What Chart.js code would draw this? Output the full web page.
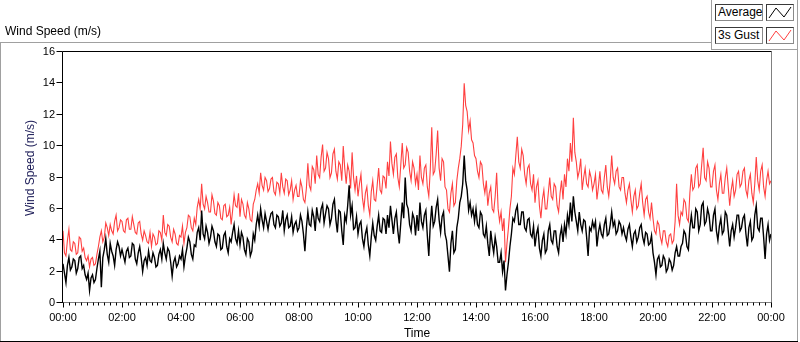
<!DOCTYPE html>
<html><head><meta charset="utf-8">
<script src="https://cdn.jsdelivr.net/npm/chart.js@4"></script>
<style>
html,body{margin:0;padding:0;background:#fff;}
#wrap{position:relative;width:800px;height:342px;font-family:"Liberation Sans",Arial,sans-serif;overflow:hidden;}
canvas{position:absolute;left:0;top:0;}
.t{position:absolute;font-size:12px;color:#000;white-space:nowrap;line-height:14px;}
.lb{position:absolute;box-sizing:border-box;border:1px solid;border-color:#3a3a3a #8a8a8a #8a8a8a #3a3a3a;background:#fff;font-size:12px;line-height:14px;padding-left:2px;white-space:nowrap;}
.ic{position:absolute;box-sizing:border-box;border:1px solid;border-color:#3a3a3a #8a8a8a #8a8a8a #3a3a3a;background:#fff;}
#ytitle{position:absolute;left:-20px;top:161px;width:100px;height:14px;text-align:center;transform:rotate(-90deg);color:#20205a;font-size:12px;line-height:14px;white-space:nowrap;}
</style></head><body>
<div id="wrap">
<canvas id="c" width="800" height="342"></canvas>
<div class="t" style="left:5px;top:24px;">Wind Speed (m/s)</div>
<div id="ytitle">Wind Speed (m/s)</div>
<div class="lb" style="left:715px;top:4px;width:48px;height:17px;">Average</div>
<div class="ic" style="left:766px;top:4px;width:28px;height:17px;"><svg width="26" height="15" style="display:block"><polyline points="2,13 9,3 17,12 24,2" fill="none" stroke="#000" stroke-width="1"/></svg></div>
<div class="lb" style="left:715px;top:27px;width:48px;height:17px;">3s Gust</div>
<div class="ic" style="left:766px;top:27px;width:28px;height:17px;"><svg width="26" height="15" style="display:block"><polyline points="2,13 9,3 17,12 24,2" fill="none" stroke="#ff4040" stroke-width="1"/></svg></div>
</div>
<script>
// Axis tick labels
const xTickLabels = ['00:00','02:00','04:00','06:00','08:00','10:00','12:00','14:00','16:00','18:00','20:00','22:00','00:00'];
const yTicks = [0,2,4,6,8,10,12,14,16];

// Average wind speed (m/s), one sample every 3 minutes, one row per hour
const average = [
 2.5,1.9,1.3,2.4,2.9,2.1,2.3,2.8,2.7,1.9, 2.2,2.9,3.0,2.2,2.4,1.8,1.5,1.9,0.8,1.6,
 1.8,1.3,1.5,2.2,2.8,3.3,1.0,2.9,3.4,4.1, 3.1,2.6,3.8,3.3,3.0,2.4,3.4,3.9,3.6,3.0,
 3.4,3.0,2.6,3.3,3.5,2.9,3.0,3.8,3.7,2.8, 2.5,3.2,3.6,2.9,2.0,2.7,2.9,2.4,3.3,2.7,
 2.6,3.2,2.9,2.3,2.4,3.1,3.4,2.8,3.8,3.2, 2.8,3.5,3.3,2.6,1.7,2.6,2.9,2.3,2.5,3.0,
 2.8,3.4,2.3,3.0,3.5,4.2,3.9,3.1,2.8,3.7, 3.6,4.5,4.8,4.0,5.9,4.4,4.1,4.9,4.5,3.8,
 4.2,4.9,4.6,3.9,3.6,4.4,4.3,3.4,3.5,4.3, 4.5,3.6,3.2,4.1,3.9,4.5,5.0,4.1,3.8,4.6,
 3.7,4.5,4.2,3.4,3.1,4.1,3.9,3.0,3.3,4.4, 4.0,5.0,5.6,4.9,6.0,5.3,4.8,5.7,5.2,4.7,
 5.3,5.7,5.8,5.0,4.8,5.6,5.5,4.9,5.1,5.9, 4.6,5.3,5.6,4.8,4.9,5.5,4.5,5.0,5.2,4.6,
 4.8,5.6,5.2,4.4,3.3,4.8,5.8,5.0,4.9,5.9, 5.5,4.6,6.1,5.4,5.2,6.0,6.3,5.1,5.7,6.2,
 6.0,5.0,5.4,6.3,6.6,5.3,4.5,5.9,5.8,4.6, 3.7,5.6,5.2,6.2,7.5,5.6,6.2,4.7,4.8,5.5,
 4.4,5.0,5.2,4.1,3.6,4.4,4.8,3.7,3.0,4.2, 5.1,4.3,4.0,4.9,5.6,4.6,4.5,5.4,5.3,4.4,
 5.6,4.8,6.2,5.3,4.4,5.4,5.8,4.6,3.8,5.1, 6.4,5.4,8.0,6.3,6.0,5.0,4.6,5.7,5.4,4.3,
 5.6,4.6,6.4,5.2,4.8,5.6,5.9,4.3,3.0,5.0, 6.2,4.9,5.2,6.1,6.6,5.3,4.5,5.5,5.8,4.4,
 4.0,3.0,2.0,3.8,4.6,3.2,3.4,4.8,5.4,6.4, 6.8,7.6,9.4,7.8,7.2,5.9,6.4,5.6,6.0,5.2,
 6.0,5.0,4.8,5.8,5.6,4.4,4.2,4.9,3.8,3.0, 4.6,3.8,3.2,4.2,3.6,2.6,2.6,3.2,2.0,2.7,
 0.8,1.8,2.6,3.6,4.4,5.4,5.2,5.9,6.2,5.0, 5.0,5.8,5.8,4.8,4.6,5.3,5.4,4.4,4.2,4.9,
 3.6,4.4,4.8,3.5,3.0,4.0,4.4,3.2,3.4,4.6, 5.0,4.0,3.8,4.6,4.6,3.6,3.2,4.3,4.8,3.9,
 5.0,4.4,5.6,5.0,6.4,5.2,6.8,5.8,5.2,4.6, 5.8,5.0,4.6,5.3,5.2,4.2,3.0,4.8,4.6,5.2,
 4.8,5.2,3.6,4.5,5.0,4.4,4.2,5.0,5.4,4.3, 4.4,5.0,5.8,4.9,5.2,4.4,4.6,5.2,5.0,4.4,
 4.8,4.3,4.0,4.7,5.0,4.2,3.6,4.4,4.6,3.9, 4.2,4.8,5.0,4.2,3.8,4.5,4.4,3.7,3.8,4.3,
 3.2,2.6,1.8,2.8,3.0,2.3,2.4,3.0,2.8,2.0, 2.2,2.8,2.6,2.1,2.4,3.2,3.6,3.0,3.0,3.6,
 3.8,4.6,4.4,3.6,3.4,4.8,5.6,4.8,4.8,6.0, 5.8,4.6,5.0,6.2,6.4,5.0,5.2,6.0,5.6,4.6,
 4.6,5.6,6.0,4.6,4.0,4.9,5.4,4.4,4.6,5.8, 5.6,4.6,3.6,4.6,5.0,4.2,4.8,5.6,5.6,4.6,
 4.8,5.4,5.6,4.4,3.6,4.8,5.2,4.0,4.2,5.6, 6.2,4.8,4.6,5.4,5.4,4.2,2.8,4.4,5.0,4.0,
 4.4
];

// 3 s gust (m/s), one sample every 3 minutes, one row per hour
const gust = [
 4.6,3.2,3.0,4.0,4.7,3.4,3.3,3.9,3.8,3.1, 3.2,4.2,4.1,3.3,3.5,2.9,2.7,3.0,2.3,2.8,
 2.9,2.4,2.5,3.1,3.6,4.2,4.6,3.9,4.2,5.1, 4.8,4.3,5.0,4.6,4.4,5.2,5.6,4.6,4.8,5.3,
 5.2,4.6,4.5,5.3,5.4,4.7,4.7,5.5,5.0,4.5, 4.4,5.1,5.2,4.4,4.0,4.6,4.3,3.9,3.8,4.5,
 3.6,4.4,4.2,3.7,3.8,4.6,4.5,4.0,5.6,4.5, 4.3,5.0,4.9,4.2,3.9,4.7,4.4,3.8,3.7,4.3,
 4.2,4.9,3.8,4.5,4.8,5.6,5.5,4.8,4.6,5.4, 5.0,6.1,6.6,6.0,7.6,6.3,6.0,6.8,6.4,5.8,
 5.8,6.9,6.5,5.7,5.6,6.4,6.2,5.4,5.3,6.2, 6.3,5.5,5.6,6.1,5.0,5.9,6.9,6.2,6.1,7.0,
 5.5,6.6,6.3,5.6,5.4,6.4,6.0,5.3,5.2,6.3, 6.6,7.2,7.6,7.0,8.3,7.5,7.2,8.0,7.8,7.1,
 7.3,7.9,8.0,7.1,6.9,7.7,7.6,7.0,8.3,7.4, 7.0,7.9,7.8,6.9,7.2,7.8,6.6,7.2,7.5,6.8,
 6.8,7.8,7.4,6.6,6.4,7.3,8.9,7.5,7.2,8.7, 8.5,7.6,9.4,8.2,8.0,9.3,10.1,8.4,8.6,9.6,
 9.2,8.0,8.3,9.5,9.8,8.4,7.9,9.0,8.8,7.8, 10.0,8.6,7.6,8.8,8.4,7.3,9.6,8.0,7.2,8.1,
 6.8,7.6,8.2,6.7,6.0,7.0,7.4,6.2,5.6,7.1, 7.8,6.6,6.5,7.5,8.6,7.2,7.0,8.1,8.0,7.3,
 9.0,8.1,10.3,8.9,8.2,9.3,9.5,8.0,7.4,8.8, 10.2,8.6,8.8,9.9,9.6,8.4,7.8,9.0,8.6,7.6,
 8.2,7.2,9.4,8.0,7.6,8.6,8.8,7.4,6.8,8.5, 11.2,8.2,8.4,9.5,11.0,8.6,7.8,9.2,9.0,7.4,
 7.2,6.0,5.8,7.0,7.6,6.2,6.4,7.8,8.6,9.2, 10.0,11.4,14.0,12.6,12.2,11.0,11.6,10.4,10.2,9.4,
 9.2,8.4,8.0,9.0,8.8,7.6,7.0,7.8,6.2,7.0, 7.4,6.0,5.8,6.8,8.3,6.0,5.2,5.8,4.6,5.4,
 2.6,3.8,4.8,6.0,6.8,8.6,8.2,9.4,10.6,9.0, 8.6,9.8,9.4,8.2,7.6,8.6,8.8,7.6,7.2,8.2,
 6.4,7.4,7.8,6.2,5.4,6.6,7.2,6.0,6.0,7.0, 8.0,6.8,6.6,7.6,7.4,6.2,5.8,7.0,7.8,6.6,
 8.2,7.4,9.2,8.4,10.2,9.0,11.8,9.6,9.0,8.0, 8.4,9.2,7.2,8.0,8.6,7.6,7.4,8.4,8.0,7.2,
 7.6,8.2,6.6,7.4,8.4,7.2,7.0,8.0,8.8,7.4, 6.8,7.8,9.4,8.0,7.6,8.4,8.6,7.4,7.2,8.0,
 8.0,7.0,6.4,7.2,7.6,6.6,5.8,6.8,7.2,6.0, 6.2,7.0,7.6,6.4,5.6,6.6,6.8,5.8,5.4,6.4,
 5.4,4.6,4.4,5.2,5.0,4.2,3.8,4.6,4.6,3.9, 3.6,4.3,4.4,3.8,4.0,5.2,7.6,5.6,5.0,5.8,
 5.6,6.6,6.4,5.4,5.2,7.0,8.2,7.2,7.4,8.6, 8.8,7.4,7.6,8.8,9.9,8.0,7.8,9.0,8.6,7.4,
 7.4,8.4,8.8,7.2,6.6,7.6,8.2,7.0,7.0,8.0, 8.6,7.4,6.2,7.2,7.8,6.8,7.2,8.2,8.4,7.4,
 7.6,8.4,8.6,7.2,6.8,7.8,8.2,7.0,6.4,7.6, 9.3,7.8,7.2,8.4,8.8,7.4,6.8,7.8,8.4,7.6,
 7.8
];

const sampleHours = 0.05; // 3-minute sampling
const times = average.map((_, i) => +(i * sampleHours).toFixed(2));

const FONT = 'Liberation Sans';

const framePlugin = {
  id: 'frame',
  afterDraw(chart) {
    const {ctx, chartArea: a, scales: {x, y}} = chart;
    const line = (x1, y1, x2, y2) => { ctx.beginPath(); ctx.moveTo(x1, y1); ctx.lineTo(x2, y2); ctx.stroke(); };
    ctx.save();
    ctx.lineWidth = 1;
    ctx.strokeStyle = '#a0a0a0';
    line(0.5, 42, 0.5, 342);
    line(0, 42.5, 712, 42.5);
    line(711.5, 0, 711.5, 50);
    line(711, 49.5, 798, 49.5);
    line(797.5, 0, 797.5, 342);
    ctx.strokeStyle = '#000';
    line(0, 341.5, 798, 341.5);
    const L = Math.round(a.left) - 0.5, R = Math.round(a.right) + 0.5;
    const T = Math.round(a.top) - 0.5, B = Math.round(a.bottom) - 0.5;
    ctx.strokeStyle = '#808080';
    line(R, T, R, B + 0.5);
    line(L, B, R, B);
    ctx.strokeStyle = '#000';
    line(L, T, R, T);
    line(L, T, L, B + 0.5);
    yTicks.forEach(v => {
      const py = Math.round(y.getPixelForValue(v)) - 0.5;
      line(L - 6, py, L, py);
    });
    for (let k = 0; k <= 120; k++) {
      const v = k * 0.2;
      const px = Math.round(x.getPixelForValue(v)) + 0.5;
      const major = k % 10 === 0;
      line(px, B, px, B + (major ? 5 : 3));
    }
    ctx.restore();
  }
};

new Chart(document.getElementById('c'), {
  type: 'line',
  data: {
    labels: times,
    datasets: [
      {label: 'Average', data: average, borderColor: '#000000', borderWidth: 1.4, pointRadius: 0, tension: 0, fill: false},
      {label: '3s Gust', data: gust, borderColor: '#ff4040', borderWidth: 1.1, pointRadius: 0, tension: 0, fill: false}
    ]
  },
  options: {
    responsive: false,
    animation: false,
    events: [],
    layout: {padding: {left: 0, top: 52, right: 29, bottom: 0}},
    plugins: {legend: {display: false}, tooltip: {enabled: false}, title: {display: false}},
    scales: {
      x: {
        type: 'linear', min: 0, max: 24,
        ticks: {
          stepSize: 2, autoSkip: false, maxRotation: 0, padding: 8, color: '#000',
          font: {family: FONT, size: 11},
          callback: (v) => xTickLabels[Math.round(v / 2)]
        },
        grid: {drawOnChartArea: false, drawTicks: false},
        border: {display: false},
        title: {display: true, text: 'Time', color: '#000', font: {family: FONT, size: 12}, padding: {top: 0, bottom: 1}},
        afterFit(s) { s.height = 39; }
      },
      y: {
        min: 0, max: 16,
        ticks: {stepSize: 2, padding: 8, color: '#000', font: {family: FONT, size: 11}},
        grid: {drawOnChartArea: false, drawTicks: false},
        border: {display: false},
        title: {display: false},
        afterFit(s) { s.width = 63; }
      }
    }
  },
  plugins: [framePlugin]
});
</script>
</body></html>
